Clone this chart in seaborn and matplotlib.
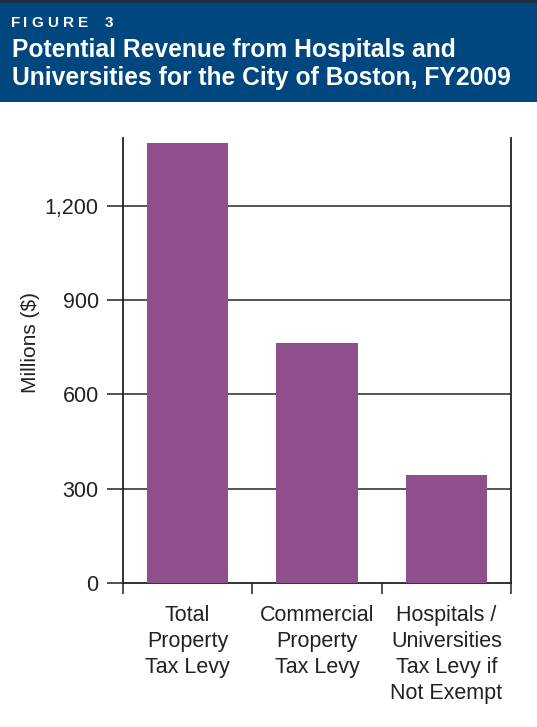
import matplotlib
matplotlib.use("Agg")
import matplotlib.pyplot as plt
import seaborn as sns
import pandas as pd
from matplotlib.patches import Rectangle

categories = ["Total\nProperty\nTax Levy", "Commercial\nProperty\nTax Levy",
              "Hospitals /\nUniversities\nTax Levy if\nNot Exempt"]
values = [1400, 764, 344]
yticks = [0, 300, 600, 900, 1200]
ytick_labels = ["0", "300", "600", "900", "1,200"]

df = pd.DataFrame({"category": categories, "value": values})

sns.set_style("white")
plt.rcParams["font.family"] = ["Liberation Sans", "DejaVu Sans"]

W, H = 537, 727
fig = plt.figure(figsize=(W / 100, H / 100), dpi=100)
ax = fig.add_axes([123 / W, 1 - 583 / H, (511 - 123) / W, (583 - 138) / H])

sns.barplot(data=df, x="category", y="value", color="#8f4f8d", saturation=1,
            width=0.63, linewidth=0, ax=ax, zorder=3)

ax.set_xlim(-0.5, 2.5)
ax.set_ylim(0, 1416)
ax.set_yticks(yticks)
ax.set_yticklabels(ytick_labels)
ax.tick_params(axis="y", length=11.5, width=1.2, color="#333333", pad=6,
               labelsize=15.5, labelcolor="#222222", left=True)
for y in yticks[1:]:
    ax.axhline(y, color="#555555", lw=1.4, zorder=1)

ax.set_xticks([-0.5, 0.5, 1.5, 2.5])
ax.set_xticklabels([])
ax.tick_params(axis="x", which="major", length=8, width=1.2, color="#333333", bottom=True)
ax.set_xticks([0, 1, 2], minor=True)
ax.set_xticklabels(categories, minor=True, fontsize=15.5, color="#222222", linespacing=1.3)
ax.tick_params(axis="x", which="minor", length=0, pad=16)
ax.set_xlabel("")
ax.set_ylabel("")

for side in ["left", "right", "bottom"]:
    ax.spines[side].set_visible(True)
    ax.spines[side].set_color("#222222")
    ax.spines[side].set_linewidth(1.3)
ax.spines["top"].set_visible(False)

fig.text(31 / W, 1 - 343 / H, "Millions ($)", rotation=90, ha="center", va="center",
         fontsize=15, color="#222222")

# header band
fig.patches.append(Rectangle((0, 1 - 102 / H), 1, 102 / H, transform=fig.transFigure,
                             facecolor="#00467f", edgecolor="none", zorder=0))
fig.patches.append(Rectangle((0, 1 - 2.5 / H), 1, 2.5 / H, transform=fig.transFigure,
                             facecolor="#1c2f44", edgecolor="none", zorder=1))
# letter-spaced "FIGURE 3"
for ch, x in zip("FIGURE3", [11, 23, 31, 47, 63, 78, 105]):
    fig.text(x / W, 1 - 27 / H, ch, color="white", fontsize=11,
             fontweight="bold", ha="left", va="baseline")
fig.text(12 / W, 1 - 57 / H, "Potential Revenue from Hospitals and",
         color="white", fontsize=17.7, fontweight="bold", ha="left", va="baseline")
fig.text(12 / W, 1 - 85 / H, "Universities for the City of Boston, FY2009",
         color="white", fontsize=17.7, fontweight="bold", ha="left", va="baseline")

fig.savefig("out.png", dpi=100)
